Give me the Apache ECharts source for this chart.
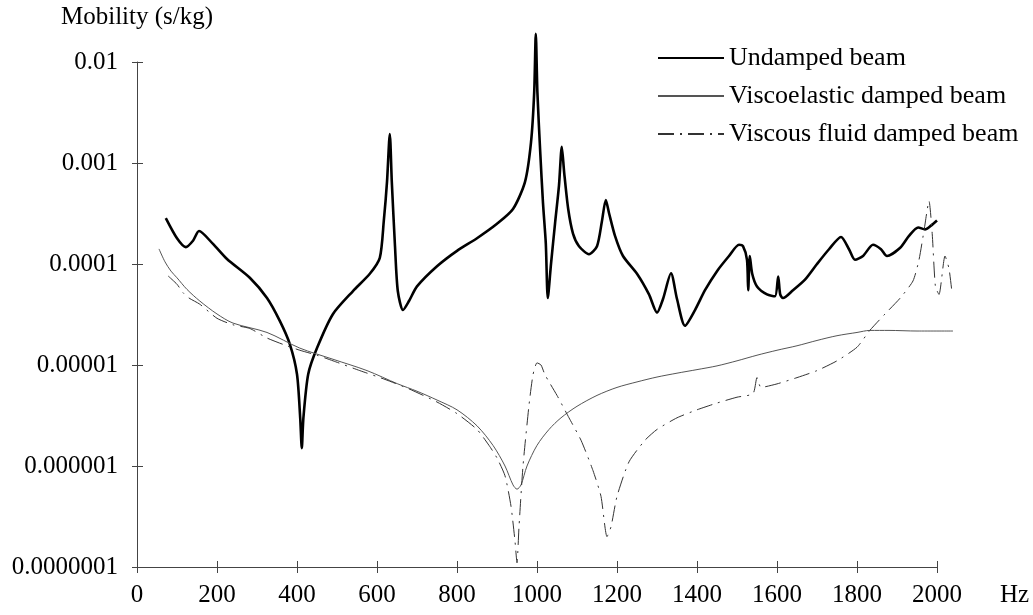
<!DOCTYPE html>
<html>
<head>
<meta charset="utf-8">
<title>Beam mobility</title>
<script src="https://cdn.jsdelivr.net/npm/echarts@6/dist/echarts.min.js"></script>
<style>
  html, body { margin: 0; padding: 0; background: #fff; }
  #chart { width: 1033px; height: 615px; }
</style>
</head>
<body>
<div id="chart"></div>
<script>
// Frequency axis ticks (Hz); the measured curves run a little past the last tick
const xTicks = [0, 200, 400, 600, 800, 1000, 1200, 1400, 1600, 1800, 2000];
const xDataMax = 2040;
// Mobility axis ticks (s/kg) and their printed labels
const yTicks = [1e-7, 1e-6, 1e-5, 1e-4, 1e-3, 1e-2];
const yTickLabels = ['0.0000001', '0.000001', '0.00001', '0.0001', '0.001', '0.01'];

const seriesNames = ['Undamped beam', 'Viscoelastic damped beam', 'Viscous fluid damped beam'];

// Undamped beam: frequency (Hz) and mobility (s/kg)
const undampedHz = [72, 100, 122, 140, 155, 190, 225, 282, 325, 357, 382, 400, 408, 412, 416, 428, 450, 490, 540, 582, 607, 617, 625, 632, 637, 645, 652, 665, 680, 700, 750, 800, 850, 900, 940, 970, 985, 993, 997, 1001, 1008, 1015, 1022, 1027, 1035, 1045, 1055, 1062, 1068, 1078, 1090, 1105, 1130, 1150, 1162, 1172, 1180, 1195, 1215, 1250, 1280, 1300, 1315, 1335, 1350, 1370, 1395, 1420, 1450, 1480, 1505, 1515, 1525, 1528, 1532, 1538, 1550, 1575, 1595, 1603, 1608, 1615, 1640, 1670, 1700, 1730, 1760, 1780, 1795, 1815, 1840, 1860, 1875, 1908, 1930, 1953, 1970, 1985, 2000];
const undampedVal = [2.85e-4, 1.8e-4, 1.47e-4, 1.7e-4, 2.12e-4, 1.58e-4, 1.12e-4, 7.3e-5, 4.6e-5, 2.73e-5, 1.61e-5, 8.1e-6, 3.0e-6, 1.5e-6, 3.0e-6, 8.1e-6, 1.47e-5, 3.2e-5, 5.4e-5, 8.0e-5, 1.15e-4, 2.67e-4, 6.5e-4, 1.94e-3, 6.5e-4, 1.5e-4, 5.4e-5, 3.5e-5, 4.3e-5, 6.0e-5, 9.5e-5, 1.35e-4, 1.8e-4, 2.5e-4, 3.5e-4, 6.5e-4, 1.6e-3, 5e-3, 1.9e-2, 5e-3, 1.3e-3, 4e-4, 1.6e-4, 4.6e-5, 1e-4, 2.5e-4, 6e-4, 1.45e-3, 8e-4, 3.5e-4, 2.0e-4, 1.5e-4, 1.25e-4, 1.5e-4, 2.6e-4, 4.3e-4, 3.2e-4, 1.9e-4, 1.2e-4, 8e-5, 5e-5, 3.3e-5, 4.5e-5, 8.1e-5, 4.5e-5, 2.45e-5, 3.5e-5, 5.5e-5, 8.5e-5, 1.2e-4, 1.55e-4, 1.5e-4, 1.1e-4, 5.5e-5, 1.2e-4, 8e-5, 6e-5, 5e-5, 4.8e-5, 7.5e-5, 5e-5, 4.6e-5, 5.5e-5, 7e-5, 1.0e-4, 1.4e-4, 1.85e-4, 1.4e-4, 1.1e-4, 1.2e-4, 1.55e-4, 1.4e-4, 1.2e-4, 1.45e-4, 1.9e-4, 2.3e-4, 2.2e-4, 2.4e-4, 2.7e-4];

// Viscoelastic damped beam
const viscoelasticHz = [55, 70, 85, 100, 125, 157, 200, 240, 325, 407, 490, 575, 652, 700, 750, 800, 850, 890, 920, 940, 950, 960, 975, 1000, 1030, 1060, 1100, 1150, 1200, 1250, 1300, 1350, 1400, 1450, 1500, 1550, 1600, 1650, 1700, 1750, 1800, 1832, 1880, 1950, 2040];
const viscoelasticVal = [1.41e-4, 1.05e-4, 8.5e-5, 7.3e-5, 5.6e-5, 4.3e-5, 3.2e-5, 2.6e-5, 2.1e-5, 1.47e-5, 1.14e-5, 8.8e-6, 6.5e-6, 5.5e-6, 4.5e-6, 3.6e-6, 2.5e-6, 1.6e-6, 1.0e-6, 6.5e-7, 5.9e-7, 6.5e-7, 1.0e-6, 1.6e-6, 2.3e-6, 3.0e-6, 3.9e-6, 5.0e-6, 6.0e-6, 6.8e-6, 7.6e-6, 8.3e-6, 9.0e-6, 9.8e-6, 1.1e-5, 1.25e-5, 1.4e-5, 1.55e-5, 1.75e-5, 1.95e-5, 2.1e-5, 2.2e-5, 2.2e-5, 2.17e-5, 2.17e-5];

// Viscous fluid damped beam
const viscousHz = [78, 100, 115, 130, 157, 200, 240, 282, 325, 365, 407, 450, 490, 557, 620, 680, 750, 800, 850, 880, 900, 920, 935, 945, 950, 955, 965, 980, 990, 1000, 1010, 1020, 1050, 1080, 1110, 1140, 1160, 1175, 1185, 1200, 1230, 1270, 1300, 1350, 1400, 1450, 1500, 1540, 1550, 1560, 1600, 1650, 1700, 1750, 1800, 1832, 1870, 1908, 1940, 1955, 1968, 1980, 1988, 1996, 2005, 2020, 2030, 2038];
const viscousVal = [7.6e-5, 6.3e-5, 5.2e-5, 4.6e-5, 4.0e-5, 2.9e-5, 2.5e-5, 2.3e-5, 1.85e-5, 1.6e-5, 1.4e-5, 1.25e-5, 1.1e-5, 8.8e-6, 7.2e-6, 5.8e-6, 4.3e-6, 3.3e-6, 2.3e-6, 1.6e-6, 1.2e-6, 8e-7, 4e-7, 1.8e-7, 1.1e-7, 2.5e-7, 1.0e-6, 4e-6, 8e-6, 1.05e-5, 1.0e-5, 8e-6, 5e-6, 3e-6, 1.8e-6, 9e-7, 5e-7, 2e-7, 2.5e-7, 5e-7, 1.1e-6, 1.8e-6, 2.3e-6, 3.0e-6, 3.6e-6, 4.2e-6, 4.8e-6, 5.2e-6, 7.5e-6, 6e-6, 6.5e-6, 7.5e-6, 8.8e-6, 1.1e-5, 1.5e-5, 2.2e-5, 3.2e-5, 4.6e-5, 6.8e-5, 1.1e-4, 2.2e-4, 4.2e-4, 2.0e-4, 6e-5, 5e-5, 1.2e-4, 9e-5, 5e-5];

const pairs = (xs, ys) => xs.map((x, i) => [x, ys[i]]);

const FONT = 'Liberation Serif';
const AXIS_COLOR = '#444';

// Print each log tick with its plain decimal label
const yLabel = (v) => {
  let best = 0;
  yTicks.forEach((t, i) => {
    if (Math.abs(Math.log10(t) - Math.log10(v)) < Math.abs(Math.log10(yTicks[best]) - Math.log10(v))) best = i;
  });
  return yTickLabels[best];
};

const xBase = {
  type: 'value', position: 'bottom',
  min: xTicks[0], max: xDataMax, interval: xTicks[1] - xTicks[0],
  splitLine: { show: false }
};
const yBase = {
  type: 'log', logBase: 10, position: 'left',
  min: yTicks[0], max: yTicks[yTicks.length - 1],
  splitLine: { show: false }
};

const chart = echarts.init(document.getElementById('chart'), null, { renderer: 'canvas' });
chart.setOption({
  animation: false,
  backgroundColor: '#fff',
  textStyle: { fontFamily: FONT, color: '#000' },
  grid: { left: 137, right: 80, top: 62, bottom: 48, containLabel: false, outerBoundsMode: 'none' },
  legend: {
    orient: 'vertical',
    left: 652, top: 40,
    itemWidth: 66, itemHeight: 26, itemGap: 12,
    data: seriesNames,
    itemStyle: { opacity: 0 },
    textStyle: { fontFamily: FONT, fontSize: 26, color: '#000', lineHeight: 26 }
  },
  xAxis: [
    Object.assign({}, xBase, {
      name: 'Hz', nameLocation: 'end', nameGap: 47,
      nameTextStyle: { fontFamily: FONT, fontSize: 25, color: '#000', verticalAlign: 'top', padding: [16, 0, 0, 0] },
      axisLine: { show: false },
      axisTick: { show: true, inside: false, length: 6, customValues: xTicks, lineStyle: { color: AXIS_COLOR } },
      axisLabel: { fontFamily: FONT, fontSize: 25, color: '#000', margin: 16, customValues: xTicks, formatter: (v) => String(v) }
    }),
    Object.assign({}, xBase, {
      axisLine: { show: false },
      axisTick: { show: true, inside: true, length: 6, customValues: xTicks, lineStyle: { color: AXIS_COLOR } },
      axisLabel: { show: false }
    })
  ],
  yAxis: [
    Object.assign({}, yBase, {
      name: 'Mobility (s/kg)', nameLocation: 'end', nameGap: 45,
      nameTextStyle: { fontFamily: FONT, fontSize: 25, color: '#000', align: 'center', verticalAlign: 'middle' },
      axisLine: { show: true, lineStyle: { color: AXIS_COLOR, width: 1 } },
      axisTick: { show: true, inside: false, length: 5, lineStyle: { color: AXIS_COLOR } },
      axisLabel: { fontFamily: FONT, fontSize: 25, color: '#000', margin: 19, formatter: yLabel }
    }),
    Object.assign({}, yBase, {
      axisLine: { show: false },
      axisTick: { show: true, inside: true, length: 6, lineStyle: { color: AXIS_COLOR } },
      axisLabel: { show: false }
    })
  ],
  series: [
    {
      name: seriesNames[0], type: 'line', data: pairs(undampedHz, undampedVal),
      symbol: 'none', smooth: 0.25, clip: false,
      lineStyle: { color: '#000', width: 2.6 }, itemStyle: { color: '#000' },
      // frequency axis line, running from 0 Hz to the last tick only
      markLine: {
        silent: true, symbol: 'none', label: { show: false },
        lineStyle: { color: AXIS_COLOR, width: 1, type: 'solid' },
        data: [[{ coord: [xTicks[0], yTicks[0]] }, { coord: [xTicks[xTicks.length - 1], yTicks[0]] }]]
      }
    },
    {
      name: seriesNames[1], type: 'line', data: pairs(viscoelasticHz, viscoelasticVal),
      symbol: 'none', smooth: 0.3, clip: false,
      lineStyle: { color: '#555', width: 1 }, itemStyle: { color: '#555' }
    },
    {
      name: seriesNames[2], type: 'line', data: pairs(viscousHz, viscousVal),
      symbol: 'none', smooth: 0.2, clip: false,
      lineStyle: { color: '#333', width: 1, type: [16, 6, 2, 6] }, itemStyle: { color: '#333' }
    }
  ]
});
</script>
</body>
</html>
